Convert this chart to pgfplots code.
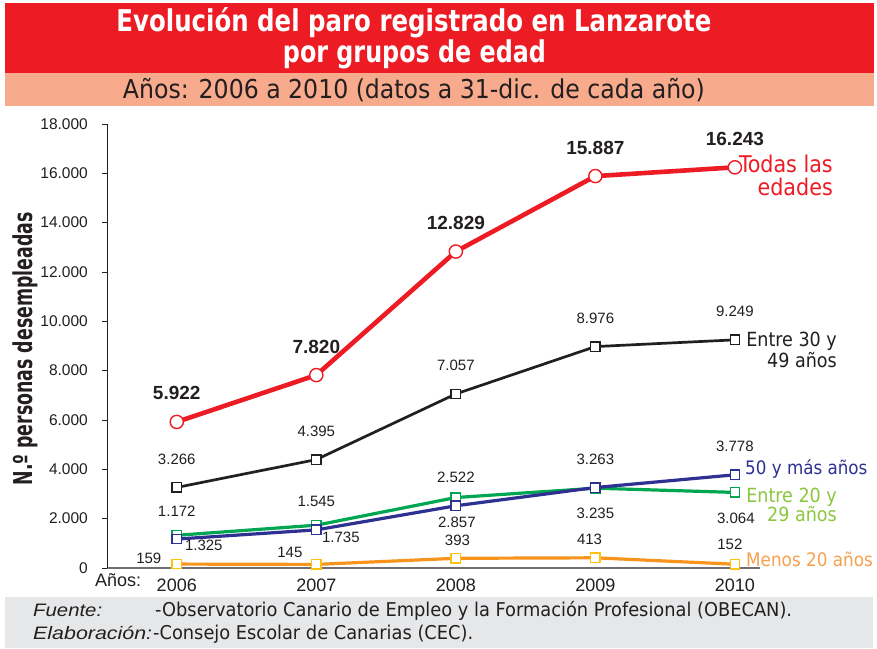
\documentclass[border=0pt]{standalone}
\usepackage{fontspec}
\setmainfont{Liberation Sans}
\newfontfamily\condfont{DejaVu Sans Condensed}
\usepackage{graphicx}
\usepackage{pgfplots}
\pgfplotsset{compat=1.18}
\definecolor{cRed}{HTML}{ED1C24}
\definecolor{cSalmon}{HTML}{F8AA8C}
\definecolor{cGray}{HTML}{E6E7E8}
\definecolor{cText}{HTML}{231F20}
\definecolor{cBlue}{HTML}{2E3192}
\definecolor{cGreen}{HTML}{00A651}
\definecolor{cLGreen}{HTML}{8DC63F}
\definecolor{cOrange}{HTML}{F7941D}
\definecolor{cLOrange}{HTML}{F7A04F}
\definecolor{cYellow}{HTML}{FFC20E}
\definecolor{axisgray}{HTML}{6D6E71}
\newcommand{\lab}{\fontsize{15bp}{15bp}\selectfont}
\begin{document}
\begin{tikzpicture}[x=1bp,y=1bp]
\useasboundingbox (0,0) rectangle (877,649);
\fill[white] (0,0) rectangle (877,649);
\fill[cRed] (5,576) rectangle (874,646);
\fill[cSalmon] (5,543) rectangle (874,576);
\fill[cGray] (5,1) rectangle (873,52);
\node[anchor=base, inner sep=0, text=white] at (414,617) {\resizebox{595bp}{\height}{\condfont\bfseries\fontsize{30bp}{30bp}\selectfont Evolución del paro registrado en Lanzarote}};
\node[anchor=base, inner sep=0, text=white] at (414.5,586) {\resizebox{263bp}{\height}{\condfont\bfseries\fontsize{30bp}{30bp}\selectfont por grupos de edad}};
\node[anchor=base, inner sep=0, text=cText] at (414,550) {\resizebox{582bp}{\height}{\condfont\fontsize{26bp}{26bp}\selectfont Años: 2006 a 2010 (datos a 31-dic. de cada año)}};

\begin{axis}[
  at={(107bp,81bp)}, anchor=south west,
  scale only axis, width=653bp, height=444bp,
  xmin=2005.5, xmax=2010.18, ymin=0, ymax=18000,
  clip=false,
  axis x line*=bottom, axis y line*=left,
  x axis line style={draw=axisgray, line width=1.3bp, -},
  y axis line style={draw=cText, line width=1bp, -},
  xtick={2006,2007,2008,2009,2010},
  xticklabels={2006,2007,2008,2009,2010},
  x tick style={draw=none},
  ytick={0,2000,4000,6000,8000,10000,12000,14000,16000,18000},
  y tick style={draw=cText, line width=0.8bp},
  tick align=outside, major tick length=5bp,
  scaled y ticks=false,
  yticklabel style={font=\fontsize{15.5bp}{15.5bp}\selectfont, text=cText, anchor=east, inner sep=0pt, xshift=-14bp},
  xticklabel style={font=\fontsize{18bp}{18bp}\selectfont, text=cText, anchor=base, inner sep=0pt, yshift=-19bp},
  /pgf/number format/1000 sep={.},
  /pgf/number format/fixed,
  /pgf/number format/assume math mode=true,
]
% Menos 20 anos
\addplot[cOrange, line width=3.2bp, mark=square*, mark size=4.7bp,
  mark options={fill=white, draw=cYellow, line width=1.4bp, solid}]
  coordinates {(2006,159) (2007,145) (2008,393) (2009,413) (2010,152)};
% Entre 20 y 29
\addplot[cGreen, line width=3.2bp, mark=square*, mark size=4.7bp,
  mark options={fill=white, draw=cGreen, line width=1.4bp, solid}]
  coordinates {(2006,1325) (2007,1735) (2008,2857) (2009,3235) (2010,3064)};
% 50 y mas
\addplot[cBlue, line width=3.2bp, mark=square*, mark size=4.7bp,
  mark options={fill=white, draw=cBlue, line width=1.4bp, solid},
  nodes near coords,
  nodes near coords style={anchor=base, yshift=23bp, font=\lab, text=cText, inner sep=0pt}]
  coordinates {(2006,1172) (2007,1545) (2008,2522) (2009,3263) (2010,3778)};
% Entre 30 y 49
\addplot[cText, line width=2.7bp, mark=square*, mark size=4.7bp,
  mark options={fill=white, draw=cText, line width=1.4bp, solid},
  nodes near coords,
  nodes near coords style={anchor=base, yshift=23bp, font=\lab, text=cText, inner sep=0pt}]
  coordinates {(2006,3266) (2007,4395) (2008,7057) (2009,8976) (2010,9249)};
% Todas
\addplot[cRed, line width=4.6bp, mark=*, mark size=6.6bp,
  mark options={fill=white, draw=cRed, line width=1.4bp, solid},
  nodes near coords,
  nodes near coords style={anchor=base, yshift=22bp, font=\bfseries\fontsize{19bp}{19bp}\selectfont, text=cText, inner sep=0pt}]
  coordinates {(2006,5922) (2007,7820) (2008,12829) (2009,15887) (2010,16243)};

% green labels
\node[anchor=base, font=\lab, text=cText, inner sep=0pt, xshift=27bp, yshift=-14.7bp] at (axis cs:2006,1325) {1.325};
\node[anchor=base, font=\lab, text=cText, inner sep=0pt, xshift=24.6bp, yshift=-17.8bp] at (axis cs:2007,1735) {1.735};
\node[anchor=base, font=\lab, text=cText, inner sep=0pt, xshift=1bp, yshift=-29.5bp] at (axis cs:2008,2857) {2.857};
\node[anchor=base, font=\lab, text=cText, inner sep=0pt, xshift=0bp, yshift=-30bp] at (axis cs:2009,3235) {3.235};
\node[anchor=base, font=\lab, text=cText, inner sep=0pt, xshift=1bp, yshift=-30.6bp] at (axis cs:2010,3064) {3.064};
% orange labels
\node[anchor=base, font=\lab, text=cText, inner sep=0pt, xshift=-28bp, yshift=1bp] at (axis cs:2006,159) {159};
\node[anchor=base, font=\lab, text=cText, inner sep=0pt, xshift=-26.4bp, yshift=7.4bp] at (axis cs:2007,145) {145};
\node[anchor=base, font=\lab, text=cText, inner sep=0pt, xshift=1.6bp, yshift=13.3bp] at (axis cs:2008,393) {393};
\node[anchor=base, font=\lab, text=cText, inner sep=0pt, xshift=-5.8bp, yshift=13.8bp] at (axis cs:2009,413) {413};
\node[anchor=base, font=\lab, text=cText, inner sep=0pt, xshift=-5bp, yshift=14.3bp] at (axis cs:2010,152) {152};
\end{axis}

% axis title
\node[rotate=90, anchor=base, inner sep=0, text=cText] at (32,300) {\resizebox{273bp}{\height}{\condfont\bfseries\fontsize{26bp}{26bp}\selectfont N.º personas desempleadas}};
\node[anchor=base west, inner sep=0, text=cText, font=\fontsize{18bp}{18bp}\selectfont] at (95,62) {Años:};

% series labels
\node[anchor=base east, inner sep=0, text=cRed, font=\condfont\fontsize{23bp}{23bp}\selectfont] at (833,476) {Todas las};
\node[anchor=base east, inner sep=0, text=cRed, font=\condfont\fontsize{23bp}{23bp}\selectfont] at (833,453) {edades};
\node[anchor=base east, inner sep=0, text=cText, font=\condfont\fontsize{19.5bp}{19.5bp}\selectfont] at (837,302) {Entre 30 y};
\node[anchor=base east, inner sep=0, text=cText, font=\condfont\fontsize{19.5bp}{19.5bp}\selectfont] at (837,281) {49 años};
\node[anchor=base west, inner sep=0, text=cBlue, font=\condfont\fontsize{18.6bp}{18.6bp}\selectfont] at (745,174) {50 y más años};
\node[anchor=base east, inner sep=0, text=cLGreen, font=\condfont\fontsize{19.5bp}{19.5bp}\selectfont] at (837,146) {Entre 20 y};
\node[anchor=base east, inner sep=0, text=cLGreen, font=\condfont\fontsize{19.5bp}{19.5bp}\selectfont] at (837,127) {29 años};
\node[anchor=base west, inner sep=0, text=cLOrange, font=\condfont\fontsize{18.7bp}{18.7bp}\selectfont] at (746,82) {Menos 20 años};

% footer
\node[anchor=base west, inner sep=0, text=cText] at (33,32) {\resizebox{69bp}{\height}{\itshape\fontsize{18bp}{18bp}\selectfont Fuente:}};
\node[anchor=base west, inner sep=0, text=cText] at (33,9) {\resizebox{119bp}{\height}{\itshape\fontsize{18bp}{18bp}\selectfont Elaboración:}};
\node[anchor=base west, inner sep=0, text=cText] at (155,32) {\resizebox{637bp}{\height}{\condfont\fontsize{19bp}{19bp}\selectfont -Observatorio Canario de Empleo y la Formación Profesional (OBECAN).}};
\node[anchor=base west, inner sep=0, text=cText] at (153,9) {\resizebox{320bp}{\height}{\condfont\fontsize{19bp}{19bp}\selectfont -Consejo Escolar de Canarias (CEC).}};
\end{tikzpicture}
\end{document}
